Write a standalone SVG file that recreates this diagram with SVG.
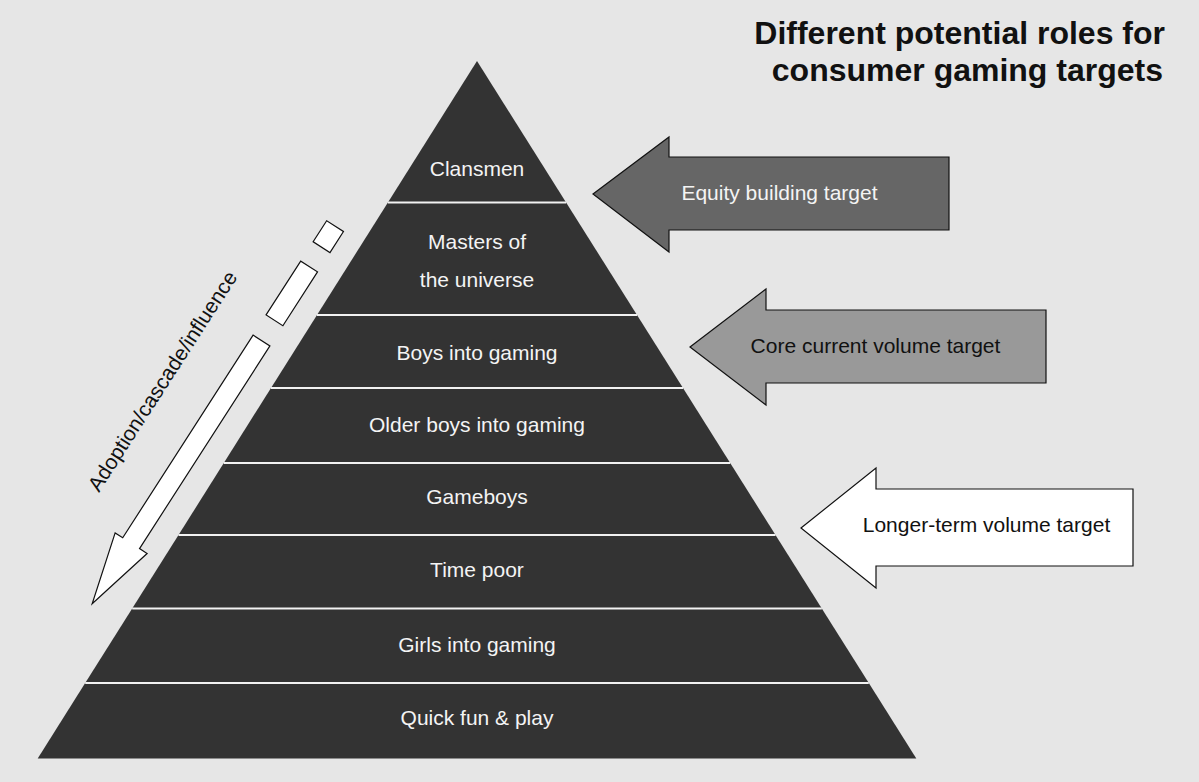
<svg xmlns="http://www.w3.org/2000/svg" width="1199" height="782" viewBox="0 0 1199 782">
  <defs>
    <style>
      .bg { fill: #e6e6e6; }
      .layer { fill: #333333; }
      .sep { stroke: #f2f2f2; stroke-width: 2; fill: none; }
      .lbl { font-family: "Liberation Sans", Arial, sans-serif; font-size: 21px; text-anchor: middle; }
      .lbl-light { fill: #f4f4f4; }
      .lbl-dark { fill: #111111; }
      .title { font-family: "Liberation Sans", Arial, sans-serif; font-size: 32px; font-weight: bold; text-anchor: end; fill: #111111; }
      .block { stroke: #111111; stroke-width: 1.2; stroke-linejoin: miter; }
      .flow { fill: #ffffff; stroke: #111111; stroke-width: 1.2; }
    </style>
  </defs>

  <rect class="bg" x="0" y="0" width="1199" height="782"/>

  <!-- title -->
  <g id="title">
    <text class="title" x="1165" y="44">Different potential roles for</text>
    <text class="title" x="1163" y="81">consumer gaming targets</text>
  </g>

  <!-- pyramid layers, top to bottom -->
  <g id="layer-clansmen">
    <polygon class="layer" points="477,61 566.1,202.5 387.9,202.5"/>
    <text class="lbl lbl-light" x="477" y="176">Clansmen</text>
  </g>
  <g id="layer-masters">
    <polygon class="layer" points="387.9,202.5 566.1,202.5 637,315 317,315"/>
    <text class="lbl lbl-light" x="477" y="249">Masters of</text>
    <text class="lbl lbl-light" x="477" y="287">the universe</text>
  </g>
  <g id="layer-boys">
    <polygon class="layer" points="317,315 637,315 683,388 271,388"/>
    <text class="lbl lbl-light" x="477" y="360">Boys into gaming</text>
  </g>
  <g id="layer-older-boys">
    <polygon class="layer" points="271,388 683,388 730.2,463 223.8,463"/>
    <text class="lbl lbl-light" x="477" y="432">Older boys into gaming</text>
  </g>
  <g id="layer-gameboys">
    <polygon class="layer" points="223.8,463 730.2,463 775.5,535 178.5,535"/>
    <text class="lbl lbl-light" x="477" y="504">Gameboys</text>
  </g>
  <g id="layer-time-poor">
    <polygon class="layer" points="178.5,535 775.5,535 821.8,608.5 132.2,608.5"/>
    <text class="lbl lbl-light" x="477" y="577">Time poor</text>
  </g>
  <g id="layer-girls">
    <polygon class="layer" points="132.2,608.5 821.8,608.5 868.8,683 85.2,683"/>
    <text class="lbl lbl-light" x="477" y="652">Girls into gaming</text>
  </g>
  <g id="layer-quick-fun">
    <polygon class="layer" points="85.2,683 868.8,683 916.3,758.5 37.7,758.5"/>
    <text class="lbl lbl-light" x="477" y="725">Quick fun &amp; play</text>
  </g>

  <!-- separators between layers -->
  <g id="separators">
    <line class="sep" x1="387.9" y1="202.5" x2="566.1" y2="202.5"/>
    <line class="sep" x1="317" y1="315" x2="637" y2="315"/>
    <line class="sep" x1="271" y1="388" x2="683" y2="388"/>
    <line class="sep" x1="223.8" y1="463" x2="730.2" y2="463"/>
    <line class="sep" x1="178.5" y1="535" x2="775.5" y2="535"/>
    <line class="sep" x1="132.2" y1="608.5" x2="821.8" y2="608.5"/>
    <line class="sep" x1="85.2" y1="683" x2="868.8" y2="683"/>
  </g>

  <!-- target arrows on the right -->
  <g id="target-equity">
    <polygon class="block" fill="#666666" points="593,194 669,137 669,157 949,157 949,230 669,230 669,252"/>
    <text class="lbl lbl-light" x="779.5" y="200">Equity building target</text>
  </g>
  <g id="target-core">
    <polygon class="block" fill="#999999" points="690,347 766,289 766,310 1046,310 1046,383 766,383 766,405"/>
    <text class="lbl lbl-dark" x="875.5" y="353">Core current volume target</text>
  </g>
  <g id="target-longer">
    <polygon class="block" fill="#ffffff" points="801,528 876,468 876,489 1133,489 1133,566 876,566 876,588"/>
    <text class="lbl lbl-dark" x="986.5" y="532">Longer-term volume target</text>
  </g>

  <!-- cascade arrow down the left flank -->
  <g id="cascade">
    <g transform="translate(261.5,340.5) rotate(122.75)">
      <rect class="flow" x="-136" y="-10" width="25" height="20"/>
      <rect class="flow" x="-88" y="-10" width="64" height="20"/>
      <polygon class="flow" points="0,-10 241,-10 241,-19 313,0 241,19 241,10 0,10"/>
    </g>
    <text class="lbl lbl-dark" style="text-anchor:start" x="99" y="493" transform="rotate(-57.25 99 493)">Adoption/cascade/influence</text>
  </g>
</svg>
